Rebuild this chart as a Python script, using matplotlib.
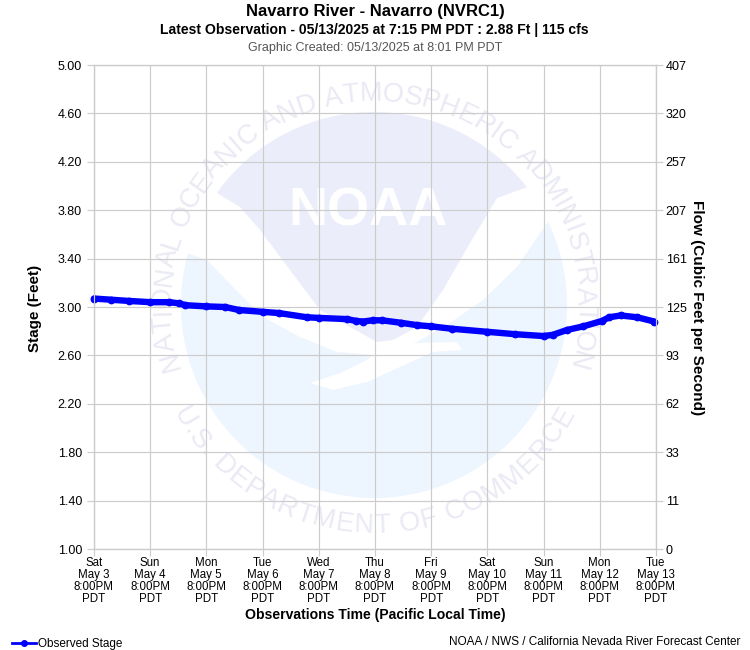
import numpy as np
import matplotlib
matplotlib.use('Agg')
import matplotlib.pyplot as plt
from matplotlib.lines import Line2D
from matplotlib.patches import Polygon

plt.rcParams['font.family'] = ['Liberation Sans', 'DejaVu Sans']

# hours since Sat May 3 8:00PM PDT
obs_hours = [0, 7.5, 15, 24, 32, 36.5, 39, 48, 56, 62, 72, 79, 91, 96, 108, 112, 115, 119, 123, 131,
             138, 144, 153, 168, 180, 192, 196, 202, 209, 217, 220, 225, 232, 239.25]
obs_stage = [3.07, 3.06, 3.05, 3.04, 3.04, 3.03, 3.015, 3.005, 3.0, 2.975, 2.96, 2.95, 2.915, 2.91, 2.90,
             2.885, 2.88, 2.89, 2.89, 2.87, 2.85, 2.84, 2.82, 2.795, 2.775, 2.76, 2.77, 2.81, 2.84, 2.885,
             2.915, 2.93, 2.915, 2.88]

stage_ticks = [1.00, 1.40, 1.80, 2.20, 2.60, 3.00, 3.40, 3.80, 4.20, 4.60, 5.00]
flow_labels = ['0', '11', '33', '62', '93', '125', '161', '207', '257', '320', '407']
day_names = ['Sat', 'Sun', 'Mon', 'Tue', 'Wed', 'Thu', 'Fri', 'Sat', 'Sun', 'Mon', 'Tue']
day_dates = ['May 3', 'May 4', 'May 5', 'May 6', 'May 7', 'May 8', 'May 9', 'May 10', 'May 11', 'May 12', 'May 13']

GRID = '#cccccc'
BLUE = '#0000ff'

fig = plt.figure(figsize=(7.5, 6.5), dpi=100, facecolor='white')


def ring_text(bg, s, start, end, radius, top=True):
    # lay the seal text out letter by letter along the circle
    renderer = fig.canvas.get_renderer()
    kw = dict(fontsize=19.5, color='#e9eaf4', ha='center', va='baseline', rotation_mode='anchor')
    widths = []
    for c in s:
        if c == ' ':
            widths.append(8)
            continue
        t = bg.text(0, 0, c, **kw)
        widths.append(t.get_window_extent(renderer).width)
        t.remove()
    widths = np.array(widths)
    edges = np.concatenate([[0], np.cumsum(widths)])
    mids = (edges[:-1] + edges[1:]) / 2 / edges[-1]
    for c, m in zip(s, mids):
        if c == ' ':
            continue
        a = np.radians(start + (end - start) * m)
        if top:
            x, y = CX + radius * np.sin(a), CY - radius * np.cos(a)
            rot = -np.degrees(a)
        else:
            x, y = CX + radius * np.sin(a), CY + radius * np.cos(a)
            rot = np.degrees(a)
        bg.text(x, y, c, rotation=rot, **kw)


# watermark seal, drawn in figure pixels behind the chart
CX, CY, R = 374, 305, 193
bg = fig.add_axes([0, 0, 1, 1], zorder=0)
bg.set_xlim(0, 750)
bg.set_ylim(650, 0)
bg.axis('off')

a = np.radians(np.linspace(-144.5, -37.6, 60))
upper = list(zip(CX + R * np.cos(a), CY + R * np.sin(a))) + [
    (497, 198), (470, 243), (443, 290), (417, 327), (393, 340), (377, 342), (350, 327),
    (320, 310), (290, 270), (260, 230), (240, 207)]
bg.add_patch(Polygon(upper, closed=True, fc='#ebedfa', ec='none'))

a = np.radians(np.linspace(195.5, -25.6, 90))
lower = list(zip(CX + R * np.cos(a), CY + R * np.sin(a))) + [
    (517, 267), (483, 300), (450, 323), (417, 342), (413, 343), (457, 342), (462, 350), (433, 352),
    (400, 367), (367, 382), (333, 390), (310, 383), (340, 373), (367, 360), (373, 355), (337, 352),
    (300, 337), (263, 317), (233, 287), (207, 260)]
bg.add_patch(Polygon(lower, closed=True, fc='#edf5fe', ec='none'))

bg.text(368, 212, 'NOAA', fontsize=39, fontweight='bold', color='white', ha='center', va='center')
ring_text(bg, 'NATIONAL OCEANIC AND ATMOSPHERIC ADMINISTRATION', -108, 108, 204)
ring_text(bg, 'U.S. DEPARTMENT OF COMMERCE', -62, 62, 228, top=False)

# main chart
ax = fig.add_axes([93.9 / 750, 101 / 650, 562 / 750, 484 / 650], zorder=1)
ax.patch.set_alpha(0)
ax.plot(obs_hours, obs_stage, color=BLUE, lw=4.6, marker='o', ms=4.6, solid_capstyle='round',
        solid_joinstyle='round', zorder=3, clip_on=False)
ax.set_xlim(0, 240)
ax.set_ylim(1, 5)
ax.set_yticks(stage_ticks)
ax.set_yticklabels([f'{v:.2f}' for v in stage_ticks])
ax.set_xticks(np.arange(0, 241, 24))
ax.set_xticklabels([f'{n}\n{d}\n8:00PM\nPDT' for n, d in zip(day_names, day_dates)], linespacing=0.98)
ax.grid(True, color=GRID, lw=0.85)
ax.set_axisbelow(True)
ax.tick_params(axis='y', labelsize=9, length=5, color=GRID, width=0.85, pad=3.5)
ax.tick_params(axis='x', labelsize=8.3, length=5, color=GRID, width=0.85, pad=1)
for sp in ax.spines.values():
    sp.set_color(GRID)
    sp.set_linewidth(0.85)

ax2 = ax.twinx()
ax2.set_ylim(1, 5)
ax2.set_yticks(stage_ticks)
ax2.set_yticklabels(flow_labels)
ax2.tick_params(axis='y', labelsize=9, length=5, color=GRID, width=0.85, pad=2)
for sp in ax2.spines.values():
    sp.set_color(GRID)
    sp.set_linewidth(0.85)


# titles and labels
def label(x, y, s, **kw):
    fig.text(x / 750, 1 - y / 650, s, va='center', **kw)


label(375.5, 11.5, 'Navarro River - Navarro (NVRC1)', ha='center', fontsize=12, fontweight='bold')
label(374.5, 30, 'Latest Observation - 05/13/2025 at 7:15 PM PDT : 2.88 Ft | 115 cfs', ha='center',
      fontsize=10.05, fontweight='bold')
label(375, 48, 'Graphic Created: 05/13/2025 at 8:01 PM PDT', ha='center', fontsize=9, color='#555555')
label(375, 615.5, 'Observations Time (Pacific Local Time)', ha='center', fontsize=10.05, fontweight='bold')
label(35, 308, 'Stage (Feet)', ha='center', rotation=90, fontsize=11, fontweight='bold')
label(697, 308, 'Flow (Cubic Feet per Second)', ha='center', rotation=-90, fontsize=11, fontweight='bold')
label(740, 642, 'NOAA / NWS / California Nevada River Forecast Center', ha='right', fontsize=8.5)

handle = Line2D([], [], color=BLUE, lw=2, marker='o', ms=4)
fig.legend([handle], ['Observed Stage'], loc='center left', bbox_to_anchor=(9.5 / 750, 1 - 644 / 650), frameon=False,
           fontsize=8.45, handlelength=2.1, handletextpad=0.15, borderaxespad=0, borderpad=0.2)

fig.savefig('out.png', dpi=100)
